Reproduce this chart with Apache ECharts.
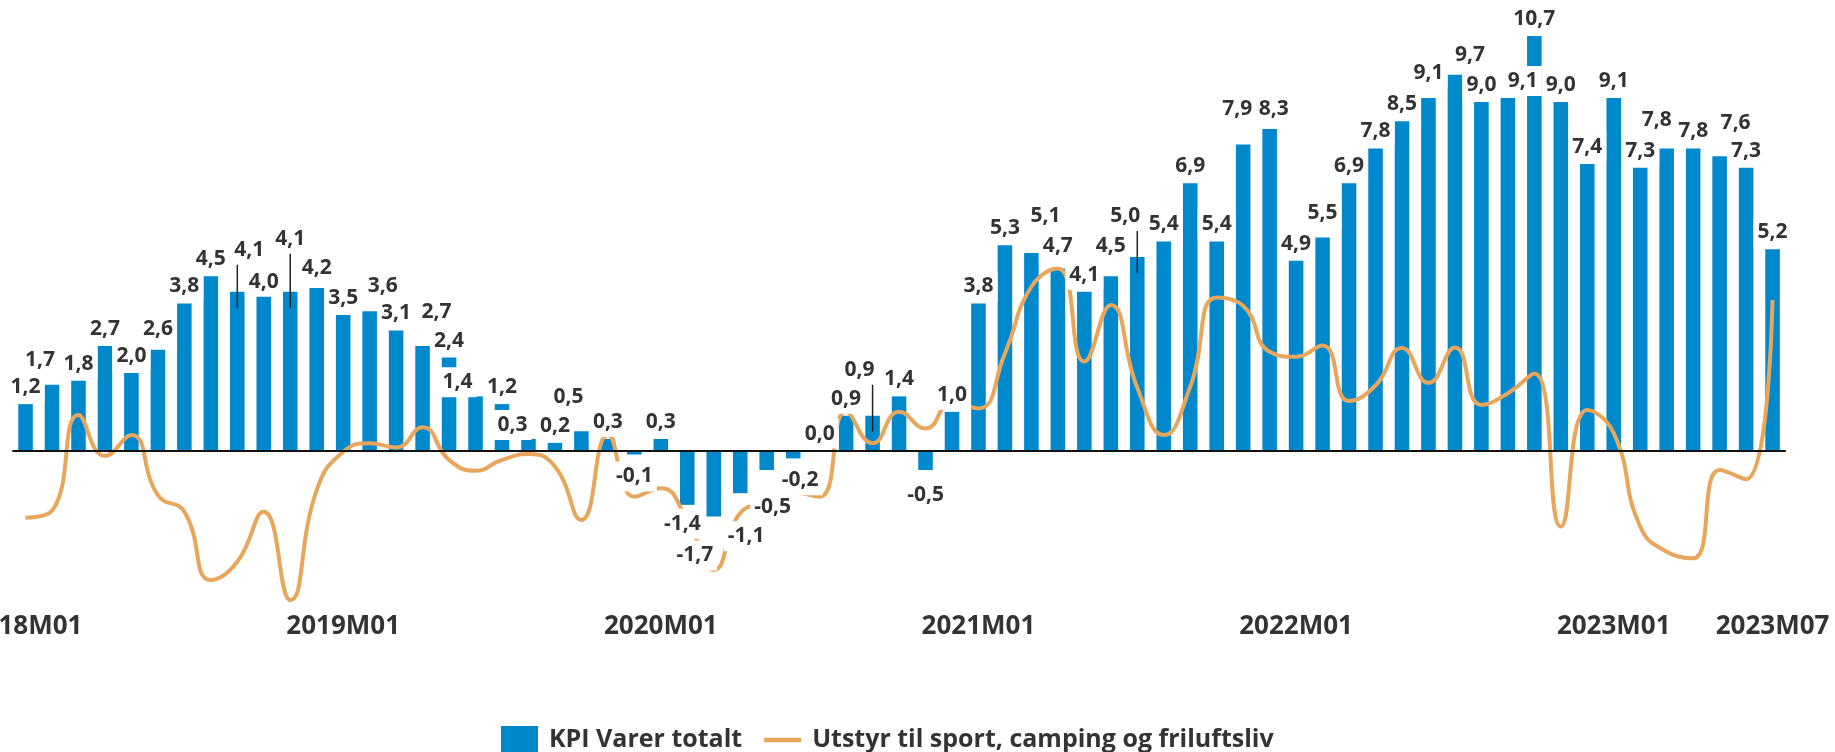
<!DOCTYPE html>
<html>
<head>
<meta charset="utf-8">
<title>KPI Varer totalt og utstyr til sport, camping og friluftsliv</title>
<script src="https://cdn.jsdelivr.net/npm/echarts@6/dist/echarts.min.js"></script>
<style>
  html, body { margin: 0; padding: 0; background: #ffffff; }
  #chart { width: 1835px; height: 752px; }
</style>
</head>
<body>
<div id="chart"></div>
<script>
// Months 2018M01 .. 2023M07
const categories = [];
for (let y = 2018; y <= 2023; y++) {
  for (let m = 1; m <= 12; m++) {
    if (y === 2023 && m > 7) break;
    categories.push(y + 'M' + (m < 10 ? '0' + m : m));
  }
}

// Twelve-month change, per cent
const kpiVarer = [
  1.2, 1.7, 1.8, 2.7, 2.0, 2.6, 3.8, 4.5, 4.1, 4.0,
  4.1, 4.2, 3.5, 3.6, 3.1, 2.7, 2.4, 1.4, 1.2, 0.3,
  0.2, 0.5, 0.3, -0.1, 0.3, -1.4, -1.7, -1.1, -0.5, -0.2,
  0.0, 0.9, 0.9, 1.4, -0.5, 1.0, 3.8, 5.3, 5.1, 4.7,
  4.1, 4.5, 5.0, 5.4, 6.9, 5.4, 7.9, 8.3, 4.9, 5.5,
  6.9, 7.8, 8.5, 9.1, 9.7, 9.0, 9.1, 10.7, 9.0, 7.4,
  9.1, 7.3, 7.8, 7.8, 7.6, 7.3, 5.2
];

const utstyrSport = [
  -1.73, -1.55, 0.92, -0.14, 0.40, -1.15, -1.58, -3.34, -2.87, -1.58,
  -3.86, -1.02, -0.03, 0.19, 0.08, 0.60, -0.24, -0.52, -0.24, -0.09,
  -0.41, -1.79, 0.40, -1.19, -0.97, -1.79, -3.08, -1.61, -1.35, -1.09,
  -1.19, 1.00, 0.19, 1.00, 0.57, 1.23, 1.09, 2.51, 4.23, 4.70,
  2.30, 3.76, 1.62, 0.40, 1.65, 3.95, 3.74, 2.55, 2.42, 2.71,
  1.28, 1.68, 2.65, 1.75, 2.66, 1.18, 1.48, 1.99, -1.96, 1.05,
  0.45, -1.96, -2.61, -2.78, -0.50, -0.74, 3.89
];

const seriesNames = ['KPI Varer totalt', 'Utstyr til sport, camping og friluftsliv'];

// Label placement tweaks (pixels) so crowded value labels do not collide
const labelNudge = {
  1: [-12, -8], 5: [0, -4], 8: [12, -25], 9: [0, 3], 10: [0, -36], 11: [0, -3],
  13: [13, -8], 15: [14, -17], 17: [-18, 3], 19: [-16, 3], 21: [-13, -17],
  25: [-5, -3], 26: [-19, 17], 27: [6, 21], 28: [6, 15], 29: [7, 0],
  32: [-13, -29], 34: [0, 3], 38: [14, -20], 39: [0, -5], 41: [0, -13],
  42: [-12, -24], 46: [-6, -18], 47: [4, -3], 49: [0, -7], 53: [0, -8],
  54: [15, -3], 56: [15, 0], 62: [-10, -11], 64: [16, -16]
};
// Labels lifted far enough to get a leader line down to their bar
const leaderLines = [8, 10, 32, 42];

const BLUE = '#0088cc';
const ORANGE = '#e8a65c';
const TEXT = '#333333';
const FONT = '"Open Sans", "Noto Sans", sans-serif';

function fmt(v) {
  return v.toFixed(1).replace('.', ',');
}

const chart = echarts.init(document.getElementById('chart'), null, { renderer: 'canvas' });

chart.setOption({
  animation: false,
  backgroundColor: '#ffffff',
  grid: {
    left: 12.3, right: 49.2, top: 24.4, bottom: 146.4,
    containLabel: false,
    outerBoundsMode: 'none'
  },
  legend: {
    left: 496,
    top: 721,
    itemWidth: 37,
    itemHeight: 28,
    itemGap: 22,
    symbolKeepAspect: true,
    textStyle: {
      fontFamily: FONT, fontSize: 25, fontWeight: 'bold', color: TEXT,
      padding: [0, 0, 0, 6]
    },
    data: [
      { name: seriesNames[0], icon: 'rect' },
      { name: seriesNames[1], icon: 'path://M0,0 L38,0 L38,4.5 L0,4.5 Z' }
    ]
  },
  xAxis: {
    type: 'category',
    data: categories,
    boundaryGap: true,
    axisLine: { show: false, onZero: false },
    axisTick: { show: false },
    splitLine: { show: false },
    axisLabel: {
      interval: (i) => i % 12 === 0 || i === categories.length - 1,
      margin: 8,
      fontFamily: FONT,
      fontSize: 26,
      fontWeight: 'bold',
      color: TEXT
    }
  },
  yAxis: {
    type: 'value',
    min: -4,
    max: 11,
    show: false,
    splitLine: { show: false }
  },
  series: [
    {
      name: seriesNames[0],
      type: 'bar',
      data: kpiVarer,
      barWidth: '55%',
      z: 2,
      itemStyle: { color: BLUE },
      markLine: {
        silent: true,
        symbol: ['none', 'none'],
        label: { show: false },
        lineStyle: { color: '#111111', width: 2, type: 'solid' },
        data: [{ yAxis: 0 }]
      }
    },
    {
      name: seriesNames[1],
      type: 'line',
      data: utstyrSport,
      smooth: 0.5,
      symbol: 'none',
      showSymbol: false,
      z: 3,
      itemStyle: { color: ORANGE },
      lineStyle: { color: ORANGE, width: 4 }
    },
    {
      // value labels for the bars, drawn on top with a white box
      type: 'custom',
      z: 5,
      silent: true,
      clip: false,
      data: kpiVarer.map((v, i) => [i, v]),
      renderItem: function (params, api) {
        const i = params.dataIndex;
        const v = api.value(1);
        const p = api.coord([i, v]);
        const n = labelNudge[i] || [0, 0];
        const baseY = v < 0 ? p[1] + 22 : p[1] - 17;
        const tx = p[0] + n[0];
        const ty = baseY + n[1];
        const children = [];
        if (leaderLines.indexOf(i) >= 0) {
          children.push({
            type: 'line',
            shape: { x1: p[0], y1: ty + 12, x2: p[0], y2: p[1] + 16 },
            style: { stroke: '#222222', lineWidth: 1.5 }
          });
        }
        children.push({
          type: 'text',
          style: {
            text: fmt(v),
            x: tx,
            y: ty,
            align: 'center',
            verticalAlign: 'middle',
            fill: TEXT,
            font: 'bold 21px ' + FONT,
            lineHeight: 22,
            backgroundColor: '#ffffff',
            padding: [4, 4]
          }
        });
        return { type: 'group', children: children };
      }
    }
  ]
});
</script>
</body>
</html>
